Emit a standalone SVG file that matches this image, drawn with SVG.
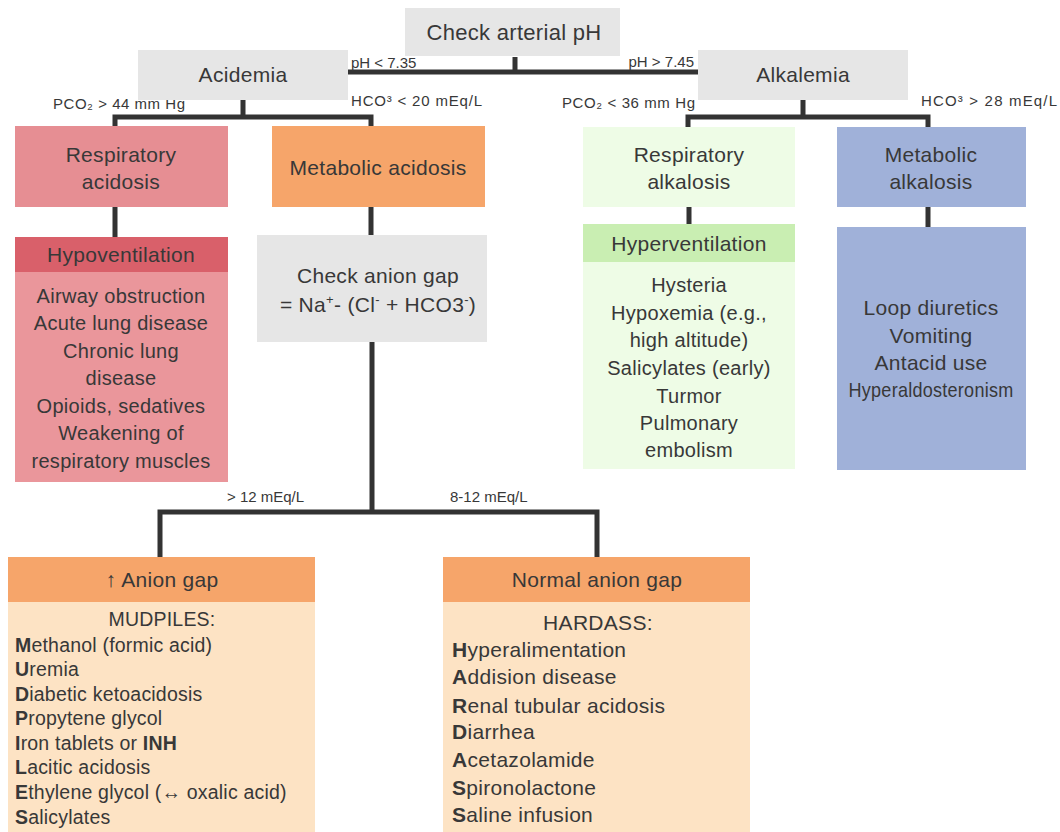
<svg xmlns="http://www.w3.org/2000/svg" width="1060" height="832" viewBox="0 0 1060 832">
<style>
text{font-family:"Liberation Sans","Open Sans",Arial,sans-serif;fill:#383838}
.t{font-size:21px;letter-spacing:0.3px;text-anchor:middle}
.l{font-size:20px;letter-spacing:0.3px;text-anchor:middle}
.s{font-size:15px}
.m{font-size:19.5px;letter-spacing:0.2px}
.h{font-size:21px;letter-spacing:0.3px}
.c{fill:none;stroke:#333;stroke-width:5;stroke-linejoin:miter}
.gray{fill:#e6e6e6}
</style>
<rect width="1060" height="832" fill="#fff"/>
<g id="connectors">
<path class="c" d="M515 57V72M347 72H700"/>
<path class="c" d="M243 100V117M115 129V117H371V129"/>
<path class="c" d="M803 100V117M688 129V117H928V129"/>
<path class="c" d="M115 207V237M371 207V235"/>
<path class="c" d="M689 207V224M928 207V227"/>
<path class="c" d="M372 342V512M160 558V512H597V558"/>
</g>
<g id="labels">
<text class="s" x="351" y="68">pH &lt; 7.35</text>
<text class="s" x="694" y="67" text-anchor="end">pH &gt; 7.45</text>
<text class="s" x="53" y="109" textLength="132">PCO₂ &gt; 44 mm Hg</text>
<text class="s" x="351" y="106" textLength="131">HCO³ &lt; 20 mEq/L</text>
<text class="s" x="562" y="108" textLength="133">PCO₂ &lt; 36 mm Hg</text>
<text class="s" x="921" y="106" textLength="136">HCO³ &gt; 28 mEq/L</text>
<text class="s" x="227" y="502">&gt; 12 mEq/L</text>
<text class="s" x="450" y="502">8-12 mEq/L</text>
</g>
<g id="check-ph">
<rect class="gray" x="405" y="8" width="215" height="48"/>
<text class="t" x="514" y="40" style="font-size:22px">Check arterial pH</text>
</g>
<g id="acidemia">
<rect class="gray" x="138" y="50" width="210" height="50"/>
<text class="t" x="243" y="82">Acidemia</text>
</g>
<g id="alkalemia">
<rect class="gray" x="698" y="50" width="210" height="50"/>
<text class="t" x="803" y="82">Alkalemia</text>
</g>
<g id="resp-acidosis">
<rect x="15" y="126" width="213" height="81" fill="#e68e93"/>
<text class="t" x="121" y="162">Respiratory</text>
<text class="t" x="121" y="189">acidosis</text>
</g>
<g id="met-acidosis">
<rect x="272" y="126" width="213" height="81" fill="#f6a56a"/>
<text class="t" x="378" y="175">Metabolic acidosis</text>
</g>
<g id="hypoventilation">
<rect x="15" y="237" width="213" height="245" fill="#ea969b"/>
<rect x="15" y="237" width="213" height="35" fill="#d9606a"/>
<text class="t" x="121" y="262">Hypoventilation</text>
<text class="l" x="121" y="303">Airway obstruction</text>
<text class="l" x="121" y="330">Acute lung disease</text>
<text class="l" x="121" y="358">Chronic lung</text>
<text class="l" x="121" y="385">disease</text>
<text class="l" x="121" y="413">Opioids, sedatives</text>
<text class="l" x="121" y="440">Weakening of</text>
<text class="l" x="121" y="468">respiratory muscles</text>
</g>
<g id="anion-gap-check">
<rect class="gray" x="257" y="235" width="230" height="107"/>
<text class="t" x="378" y="283">Check anion gap</text>
<text class="t" x="378" y="312">= Na<tspan font-size="13" dy="-8">+</tspan><tspan dy="8">- (Cl</tspan><tspan font-size="13" dy="-8">-</tspan><tspan dy="8"> + HCO3</tspan><tspan font-size="13" dy="-8">-</tspan><tspan dy="8">)</tspan></text>
</g>
<g id="resp-alkalosis">
<rect x="583" y="127" width="212" height="80" fill="#eefce6"/>
<text class="t" x="689" y="162">Respiratory</text>
<text class="t" x="689" y="189">alkalosis</text>
</g>
<g id="met-alkalosis">
<rect x="837" y="127" width="189" height="80" fill="#a0b1d9"/>
<text class="t" x="931" y="162">Metabolic</text>
<text class="t" x="931" y="189">alkalosis</text>
</g>
<g id="hyperventilation">
<rect x="583" y="224" width="212" height="245" fill="#eefce6"/>
<rect x="583" y="224" width="212" height="38" fill="#c9eeb2"/>
<text class="t" x="689" y="251">Hyperventilation</text>
<text class="l" x="689" y="292">Hysteria</text>
<text class="l" x="689" y="320">Hypoxemia (e.g.,</text>
<text class="l" x="689" y="347">high altitude)</text>
<text class="l" x="689" y="375">Salicylates (early)</text>
<text class="l" x="689" y="403">Turmor</text>
<text class="l" x="689" y="430">Pulmonary</text>
<text class="l" x="689" y="457">embolism</text>
</g>
<g id="met-alkalosis-causes">
<rect x="837" y="227" width="189" height="243" fill="#a0b1d9"/>
<text class="t" x="931" y="315">Loop diuretics</text>
<text class="t" x="931" y="343">Vomiting</text>
<text class="t" x="931" y="370">Antacid use</text>
<text class="t" x="931" y="397" textLength="165" lengthAdjust="spacingAndGlyphs">Hyperaldosteronism</text>
</g>
<g id="high-anion-gap">
<rect x="8" y="557" width="307" height="280" fill="#fde3c4"/>
<rect x="8" y="557" width="307" height="45" fill="#f6a56a"/>
<text class="t" x="162" y="587">↑ Anion gap</text>
<text class="m" x="162" y="626" text-anchor="middle">MUDPILES:</text>
<text class="m" x="15" y="652"><tspan font-weight="bold">M</tspan>ethanol (formic acid)</text>
<text class="m" x="15" y="676"><tspan font-weight="bold">U</tspan>remia</text>
<text class="m" x="15" y="701"><tspan font-weight="bold">D</tspan>iabetic ketoacidosis</text>
<text class="m" x="15" y="725"><tspan font-weight="bold">P</tspan>ropytene glycol</text>
<text class="m" x="15" y="750"><tspan font-weight="bold">I</tspan>ron tablets or <tspan font-weight="bold">INH</tspan></text>
<text class="m" x="15" y="774"><tspan font-weight="bold">L</tspan>acitic acidosis</text>
<text class="m" x="15" y="799"><tspan font-weight="bold">E</tspan>thylene glycol (↔ oxalic acid)</text>
<text class="m" x="15" y="824"><tspan font-weight="bold">S</tspan>alicylates</text>
</g>
<g id="normal-anion-gap">
<rect x="443" y="557" width="307" height="280" fill="#fde3c4"/>
<rect x="443" y="557" width="307" height="45" fill="#f6a56a"/>
<text class="t" x="597" y="587">Normal anion gap</text>
<text class="h" x="598" y="630" text-anchor="middle">HARDASS:</text>
<text class="h" x="452" y="657"><tspan font-weight="bold">H</tspan>yperalimentation</text>
<text class="h" x="452" y="684"><tspan font-weight="bold">A</tspan>ddision disease</text>
<text class="h" x="452" y="713"><tspan font-weight="bold">R</tspan>enal tubular acidosis</text>
<text class="h" x="452" y="739"><tspan font-weight="bold">D</tspan>iarrhea</text>
<text class="h" x="452" y="767"><tspan font-weight="bold">A</tspan>cetazolamide</text>
<text class="h" x="452" y="795"><tspan font-weight="bold">S</tspan>pironolactone</text>
<text class="h" x="452" y="822"><tspan font-weight="bold">S</tspan>aline infusion</text>
</g>
</svg>
